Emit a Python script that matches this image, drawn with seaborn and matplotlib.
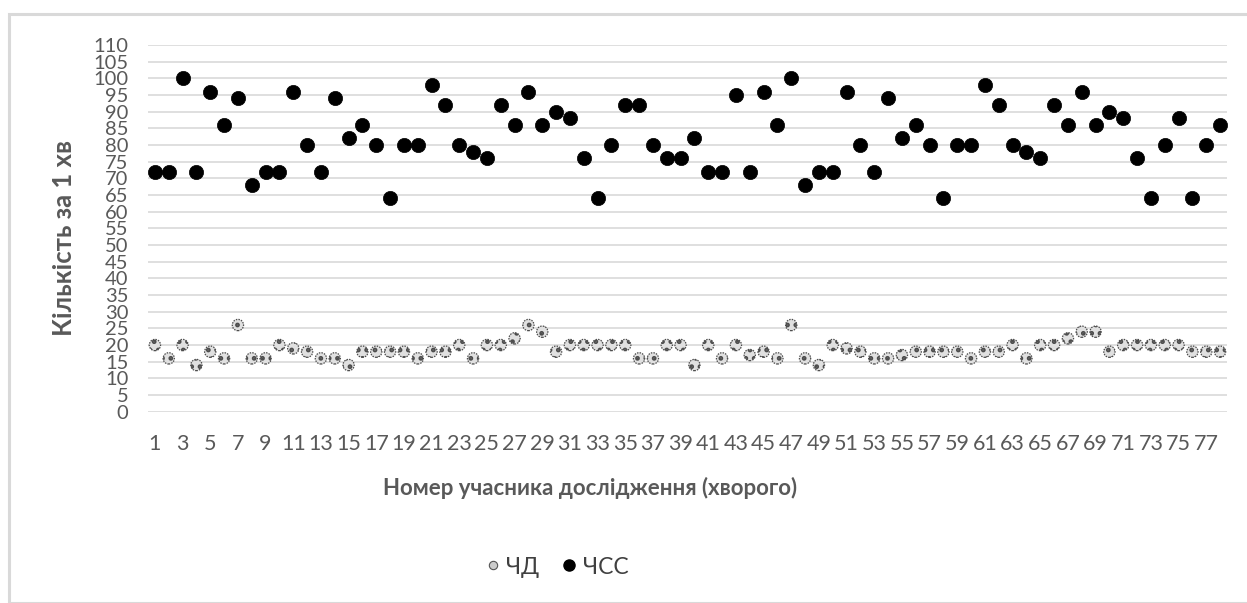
import matplotlib
matplotlib.use("Agg")
import matplotlib.pyplot as plt
from matplotlib.lines import Line2D
from matplotlib.patches import Rectangle
import seaborn as sns
import pandas as pd
import numpy as np

participants = list(range(1, 79))

chd = [20, 16, 20, 14, 18, 16, 26, 16, 16, 20,
       19, 18, 16, 16, 14, 18, 18, 18, 18, 16,
       18, 18, 20, 16, 20, 20, 22, 26, 24, 18,
       20, 20, 20, 20, 20, 16, 16, 20, 20, 14,
       20, 16, 20, 17, 18, 16, 26, 16, 14, 20,
       19, 18, 16, 16, 17, 18, 18, 18, 18, 16,
       18, 18, 20, 16, 20, 20, 22, 24, 24, 18,
       20, 20, 20, 20, 20, 18, 18, 18]

chss = [72, 72, 100, 72, 96, 86, 94, 68, 72, 72,
        96, 80, 72, 94, 82, 86, 80, 64, 80, 80,
        98, 92, 80, 78, 76, 92, 86, 96, 86, 90,
        88, 76, 64, 80, 92, 92, 80, 76, 76, 82,
        72, 72, 95, 72, 96, 86, 100, 68, 72, 72,
        96, 80, 72, 94, 82, 86, 80, 64, 80, 80,
        98, 92, 80, 78, 76, 92, 86, 96, 86, 90,
        88, 76, 64, 80, 88, 64, 80, 86]

series_names = ["ЧД", "ЧСС"]
y_ticks = list(range(0, 115, 5))
x_ticks = list(range(1, 79, 2))

df = pd.DataFrame({"n": participants, "ЧД": chd, "ЧСС": chss})

sns.set_theme(style="white")
plt.rcParams['font.family'] = ['Lato', 'DejaVu Sans']
plt.rcParams['hatch.linewidth'] = 2.2

W, H = 1247, 603
fig = plt.figure(figsize=(W / 100, H / 100), dpi=100)
fig.patch.set_facecolor('white')
fig.patches.append(Rectangle((9 / W, 0), 1.2, 1 - 14 / H, transform=fig.transFigure,
                             fill=False, edgecolor='#d9d9d9', linewidth=2.2, zorder=0))

left, right = 148, 1227
top, bottom = 45, 411.7
ax = fig.add_axes([left / W, 1 - bottom / H, (right - left) / W, (bottom - top) / H])

grey = '#595959'

sns.scatterplot(data=df, x="n", y="ЧСС", ax=ax, color='black', s=105,
                edgecolor='black', linewidth=0.5, zorder=3)
sns.scatterplot(data=df, x="n", y="ЧД", ax=ax, color='#e0e0e0', s=66,
                edgecolor='#4d4d4d', linewidth=0.9, zorder=4)
pc = ax.collections[-1]
pc.set_hatch('..')
pc.set_linestyle((0, (1.2, 0.9)))

ax.set_xlim(0.5, 78.5)
ax.set_ylim(0, 110)
ax.set_yticks(y_ticks)
ax.set_xticks(x_ticks)
ax.set_xticklabels([str(t) for t in x_ticks])
ax.yaxis.grid(True, color='#d9d9d9', linewidth=1.2)
ax.xaxis.grid(False)
ax.set_axisbelow(True)
for sp in ax.spines.values():
    sp.set_visible(False)
ax.tick_params(axis='y', length=0, pad=14, labelsize=14.5, labelcolor=grey)
ax.tick_params(axis='x', length=0, pad=16, labelsize=15.5, labelcolor=grey)
ax.set_xlabel("")
ax.set_ylabel("")

fig.text(64 / W, 1 - 238 / H, "Кількість за 1 хв", rotation=90, ha='center', va='center',
         fontsize=18.5, fontweight='bold', color=grey)
fig.text(590 / W, 1 - 488 / H, "Номер учасника дослідження (хворого)", ha='center', va='center',
         fontsize=16, fontweight='bold', color=grey)

handles = [
    Line2D([], [], linestyle='none', marker='o', markersize=6, markerfacecolor='#cccccc',
           markeredgecolor='#555555', markeredgewidth=0.8),
    Line2D([], [], linestyle='none', marker='o', markersize=8, markerfacecolor='black',
           markeredgecolor='black'),
]
leg = fig.legend(handles, series_names, loc='center', bbox_to_anchor=(555 / W, 1 - 567 / H),
                 ncol=2, frameon=False, fontsize=16.5, handletextpad=0.1, columnspacing=0.8,
                 handlelength=1.0, labelcolor='#404040')

fig.savefig("out.png", dpi=100, facecolor='white')
